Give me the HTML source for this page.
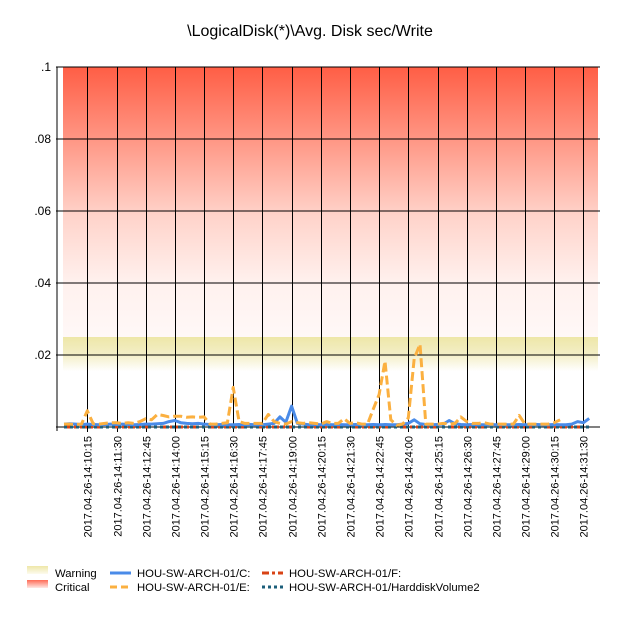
<!DOCTYPE html>
<html><head><meta charset="utf-8"><style>
body{margin:0;background:#fff;}
svg text{font-family:"Liberation Sans",sans-serif;}
</style></head><body>
<svg id="chart" width="620" height="620" viewBox="0 0 620 620" xmlns="http://www.w3.org/2000/svg">
<defs>
<linearGradient id="crit" x1="0" y1="0" x2="0" y2="1">
<stop offset="0" stop-color="#ff5e45"/><stop offset="0.3" stop-color="#ff9d8c"/><stop offset="0.55" stop-color="#ffd3ca"/><stop offset="0.8" stop-color="#fff1ee"/><stop offset="1" stop-color="#fff8f7"/>
</linearGradient>
<linearGradient id="warn" x1="0" y1="0" x2="0" y2="1">
<stop offset="0" stop-color="#eee7a8"/><stop offset="0.5" stop-color="#f3eec6"/><stop offset="1" stop-color="#ffffff"/>
</linearGradient>
<linearGradient id="lgw" x1="0" y1="0" x2="0" y2="1"><stop offset="0" stop-color="#eee7a8"/><stop offset="1" stop-color="#fdfbee"/></linearGradient>
<linearGradient id="lgc" x1="0" y1="0" x2="0" y2="1"><stop offset="0" stop-color="#ff6a55"/><stop offset="1" stop-color="#ffe8e4"/></linearGradient>
</defs>
<text x="310" y="36" font-size="16" text-anchor="middle">\LogicalDisk(*)\Avg. Disk sec/Write</text>
<g id="bands"></g><g id="grid"></g><g id="series"></g><g id="labels"></g>
<g font-size="11.3">
<rect x="27" y="566" width="21" height="8" fill="url(#lgw)"/>
<text x="55" y="577">Warning</text>
<rect x="27" y="580" width="21" height="8" fill="url(#lgc)"/>
<text x="55" y="591">Critical</text>
<line x1="110" y1="573" x2="131" y2="573" stroke="#4a8be8" stroke-width="3"/>
<text x="137" y="577">HOU-SW-ARCH-01/C:</text>
<line x1="110" y1="587" x2="131" y2="587" stroke="#fbb040" stroke-width="3" stroke-dasharray="7,4"/>
<text x="137" y="591">HOU-SW-ARCH-01/E:</text>
<line x1="262" y1="573" x2="283" y2="573" stroke="#d84315" stroke-width="3" stroke-dasharray="7,3,3,3"/>
<text x="289" y="577">HOU-SW-ARCH-01/F:</text>
<line x1="262" y1="587" x2="283" y2="587" stroke="#1b5e7a" stroke-width="3" stroke-dasharray="3,3"/>
<text x="289" y="591">HOU-SW-ARCH-01/HarddiskVolume2</text>
</g>
</svg>
<script>
const yTicks=[0,0.02,0.04,0.06,0.08,0.1];
const yTickLabels=["",".02",".04",".06",".08",".1"];
const xLabels=["2017.04.26-14:10:15","2017.04.26-14:11:30","2017.04.26-14:12:45","2017.04.26-14:14:00","2017.04.26-14:15:15","2017.04.26-14:16:30","2017.04.26-14:17:45","2017.04.26-14:19:00","2017.04.26-14:20:15","2017.04.26-14:21:30","2017.04.26-14:22:45","2017.04.26-14:24:00","2017.04.26-14:25:15","2017.04.26-14:26:30","2017.04.26-14:27:45","2017.04.26-14:29:00","2017.04.26-14:30:15","2017.04.26-14:31:30"];
const xLabelIndex=[4,9,14,19,24,29,34,39,44,49,54,59,64,69,74,79,84,89];
const warningRange=[0.0155,0.025];
const criticalRange=[0.025,0.1];
const seriesE=[0.8,0.8,0.7,0.8,4.5,0.9,0.8,1.0,1.2,1.2,1.0,1.2,1.0,1.5,2.3,2.0,3.5,3.2,2.8,3.0,3.0,2.7,2.8,2.7,2.8,0.8,0.8,1.0,1.2,11,1.5,1.0,1.0,1.0,1.0,3.5,1.5,1.0,0.8,1.5,1.2,1.0,1.2,1.0,0.8,1.5,1.0,1.0,2.3,1.0,1.2,0.8,0.8,5,9,18.3,2,0.5,0.8,2.5,19,23,0.8,0.8,0.8,1.0,0.8,1.0,2.8,1.5,1.0,1.0,1.2,0.8,0.8,0.8,0.8,0.8,3.2,0.8,0.8,0.8,0.8,0.8,1.2,2.0];
const seriesC=[0.8,0.9,0.8,0.7,0.8,0.7,0.6,0.7,0.8,0.7,0.8,0.7,0.6,0.7,0.8,0.8,0.9,1.0,1.5,1.8,1.2,1.0,0.9,1.0,0.8,0.7,0.6,0.7,0.6,0.6,0.7,0.6,0.7,0.6,0.6,0.8,1.0,2.8,1.3,5.8,1.0,0.8,0.6,0.7,0.6,0.7,0.6,0.7,0.6,0.6,0.7,0.6,0.6,0.7,0.6,0.7,0.6,0.6,0.8,1.0,2.0,0.9,0.7,0.6,0.7,0.8,1.8,0.9,0.7,0.6,0.7,0.6,0.6,0.7,0.6,0.7,0.6,0.6,0.7,0.6,0.6,0.7,0.6,0.6,0.7,0.6,0.6,0.8,1.5,1.2,2.4];
const seriesF=new Array(91).fill(0);
const seriesHV2=new Array(91).fill(0);
const NS="http://www.w3.org/2000/svg";
const PX0=63,PX1=598,PY0=427,PY1=67;
const x=i=>64+i*5.836;
const y=v=>PY0-(v/0.1)*(PY0-PY1);
function mk(tag,attrs,parent){const e=document.createElementNS(NS,tag);for(const k in attrs)e.setAttribute(k,attrs[k]);parent.appendChild(e);return e;}
const bands=document.getElementById('bands'),grid=document.getElementById('grid'),ser=document.getElementById('series'),lab=document.getElementById('labels');
let r=mk('rect',{x:PX0,y:y(criticalRange[1]),width:PX1-PX0,height:y(criticalRange[0])-y(criticalRange[1]),fill:'url(#crit)'},bands);


r=mk('rect',{x:PX0,y:y(warningRange[1]),width:PX1-PX0,height:y(warningRange[0])-y(warningRange[1]),fill:'url(#warn)'},bands);


yTicks.forEach((t,k)=>{
 const l=mk('line',{x1:56,x2:600,y1:y(t),y2:y(t),stroke:'#000','stroke-width':1},grid);
 
 
 const tx=mk('text',{x:51,y:y(t)+4,'font-size':12,'text-anchor':'end'},lab);
 tx.textContent=yTickLabels[k];
 
 
});
const ax=mk('line',{x1:57,x2:57,y1:PY1,y2:431,stroke:'#000'},grid);


xLabelIndex.forEach((ix,k)=>{
 const xx=Math.round(x(ix))+0.5;
 const l=mk('line',{x1:xx,x2:xx,y1:PY1,y2:432,stroke:'#000'},grid);
 
 
 const tx=mk('text',{x:0,y:0,'font-size':11,'text-anchor':'end',transform:`translate(${xx+4},436) rotate(-90)`},lab);
 tx.textContent=xLabels[k];
 
 
});
function path(vals,scale){return vals.map((v,i)=>(i?'L':'M')+x(i).toFixed(1)+','+y(v*scale).toFixed(1)).join(' ');}
let p=mk('path',{d:path(seriesF,1),fill:'none',stroke:'#d84315','stroke-width':3,'stroke-dasharray':'7,3,3,3'},ser);


p=mk('path',{d:path(seriesHV2,1),fill:'none',stroke:'#1b5e7a','stroke-width':3,'stroke-dasharray':'3,3'},ser);


p=mk('path',{d:path(seriesC,0.001),fill:'none',stroke:'#4a8be8','stroke-width':3,'stroke-linejoin':'round'},ser);


p=mk('path',{d:path(seriesE,0.001),fill:'none',stroke:'#fbb040','stroke-width':3,'stroke-dasharray':'9,4','stroke-linejoin':'round'},ser);


</script>
</body></html>
